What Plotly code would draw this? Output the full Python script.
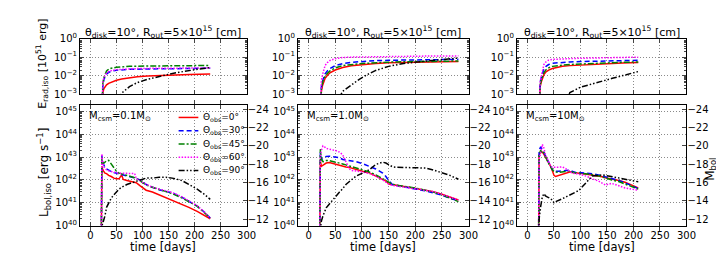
import plotly.graph_objects as go

# ---------------- data (log10 values) ----------------
angles = ["0", "30", "45", "60", "90"]

# Panel 1 : M_csm = 0.1 Msun
t_L1 = [21, 22, 23, 25, 28, 31, 35, 40, 45, 50, 55, 60, 63, 70, 80, 85, 88, 95, 100, 107, 119, 132, 145, 157, 175, 189, 205, 220, 230]
logL1_0 = [39.5, 42.6, 42.5, 42.4, 42.3, 42.28, 42.2, 42.15, 42.08, 42.05, 42.05, 42.22, 42.02, 41.98, 41.93, 41.9, 41.88, 41.75, 41.65, 41.55, 41.47, 41.35, 41.22, 41.12, 40.95, 40.8, 40.62, 40.45, 40.3]
logL1_30 = [39.5, 43.07, 42.85, 42.7, 42.55, 42.48, 42.42, 42.37, 42.33, 42.3, 42.28, 42.25, 42.24, 42.2, 42.15, 42.12, 42.07, 42.0, 41.93, 41.8, 41.68, 41.57, 41.5, 41.43, 41.25, 41.06, 40.85, 40.57, 40.33]
logL1_45 = [39.5, 43.0, 42.8, 42.72, 42.78, 42.84, 42.86, 42.7, 42.51, 42.38, 42.3, 42.27, 42.25, 42.22, 42.15, 42.1, 42.07, 41.97, 41.89, 41.78, 41.68, 41.58, 41.5, 41.4, 41.22, 41.06, 40.85, 40.54, 40.32]
logL1_60 = [39.5, 43.14, 42.9, 42.6, 42.5, 42.44, 42.4, 42.36, 42.33, 42.31, 42.3, 42.3, 42.3, 42.3, 42.3, 42.28, 42.05, 41.98, 41.89, 41.8, 41.68, 41.6, 41.52, 41.45, 41.27, 41.08, 40.87, 40.57, 40.32]
logL1_90 = [39.5, 39.9, 40.05, 40.2, 40.43, 40.8, 41.0, 41.2, 41.35, 41.5, 41.6, 41.68, 41.72, 41.8, 41.88, 41.92, 41.95, 42.0, 42.05, 42.08, 42.08, 42.12, 42.12, 42.08, 41.98, 41.82, 41.6, 41.35, 41.15]

t_E1 = [21, 22.5, 24, 26, 28, 31, 35, 40, 50, 60, 75, 90, 110, 130, 150, 170, 190, 210, 230]
logE1_0 = [-4.5, -3.2, -2.9, -2.7, -2.6, -2.5, -2.42, -2.35, -2.25, -2.18, -2.11, -2.06, -2.02, -1.99, -1.97, -1.95, -1.94, -1.93, -1.92]
logE1_30 = [-4.5, -3.0, -2.5, -2.2, -2.05, -1.92, -1.83, -1.77, -1.71, -1.68, -1.66, -1.65, -1.64, -1.63, -1.62, -1.62, -1.61, -1.61, -1.6]
logE1_45 = [-4.5, -2.95, -2.4, -2.1, -1.9, -1.75, -1.65, -1.6, -1.55, -1.52, -1.5, -1.49, -1.48, -1.47, -1.46, -1.46, -1.45, -1.45, -1.45]
logE1_60 = [-4.5, -2.8, -2.35, -2.1, -1.97, -1.86, -1.78, -1.73, -1.68, -1.66, -1.63, -1.62, -1.61, -1.6, -1.6, -1.59, -1.59, -1.58, -1.58]
logE1_90 = [-7, -7, -7, -7, -7, -7, -6, -4.5, -3.5, -2.95, -2.6, -2.38, -2.2, -2.05, -1.93, -1.82, -1.72, -1.64, -1.57]

# Panel 2 : M_csm = 1.0 Msun
t_L2 = [21, 22, 24, 27, 30, 33, 39, 45, 52, 58, 64, 70, 76, 80, 89, 101, 114, 126, 139, 145, 151, 157, 163, 176, 188, 201, 219, 232, 250, 265, 281]
logL2_0 = [39.5, 42.85, 42.6, 42.65, 42.72, 42.74, 42.76, 42.72, 42.68, 42.62, 42.58, 42.57, 42.55, 42.52, 42.44, 42.38, 42.31, 42.17, 42.03, 41.95, 41.82, 41.8, 41.76, 41.73, 41.68, 41.63, 41.55, 41.5, 41.37, 41.25, 41.12]
logL2_30 = [39.5, 43.2, 42.9, 42.95, 43.0, 43.03, 43.04, 43.02, 43.0, 42.97, 42.9, 42.88, 42.85, 42.83, 42.8, 42.72, 42.6, 42.48, 42.3, 42.15, 41.95, 41.8, 41.77, 41.72, 41.67, 41.6, 41.52, 41.45, 41.33, 41.2, 41.08]
logL2_45 = [39.5, 43.35, 42.9, 42.8, 42.82, 42.85, 42.85, 42.82, 42.78, 42.75, 42.7, 42.66, 42.62, 42.6, 42.53, 42.45, 42.35, 42.22, 42.06, 41.98, 41.88, 41.82, 41.78, 41.74, 41.7, 41.64, 41.55, 41.48, 41.35, 41.2, 41.05]
logL2_60 = [39.5, 43.0, 43.3, 43.49, 43.45, 43.38, 43.35, 43.32, 43.28, 43.22, 43.1, 42.8, 42.5, 42.42, 42.4, 42.35, 42.28, 42.17, 42.0, 41.9, 41.8, 41.76, 41.74, 41.72, 41.68, 41.63, 41.55, 41.5, 41.37, 41.25, 41.12]
logL2_90 = [39.5, 39.8, 40.2, 40.43, 40.6, 40.78, 40.95, 41.13, 41.3, 41.47, 41.62, 41.8, 41.92, 42.0, 42.17, 42.3, 42.45, 42.68, 42.78, 42.74, 42.65, 42.58, 42.56, 42.55, 42.56, 42.56, 42.52, 42.45, 42.33, 42.2, 42.03]

t_E2 = [21, 22.5, 24, 26, 28, 31, 35, 40, 50, 64, 80, 95, 110, 126, 150, 175, 200, 225, 250, 281]
logE2_0 = [-4.5, -3.2, -2.85, -2.55, -2.35, -2.15, -2.0, -1.85, -1.7, -1.56, -1.47, -1.42, -1.38, -1.35, -1.31, -1.29, -1.27, -1.26, -1.25, -1.24]
logE2_30 = [-4.5, -3.0, -2.6, -2.3, -2.1, -1.9, -1.75, -1.62, -1.46, -1.35, -1.28, -1.24, -1.21, -1.19, -1.17, -1.16, -1.15, -1.14, -1.13, -1.12]
logE2_45 = [-4.5, -3.0, -2.65, -2.4, -2.2, -2.05, -1.88, -1.75, -1.58, -1.46, -1.4, -1.36, -1.33, -1.3, -1.27, -1.25, -1.24, -1.23, -1.22, -1.21]
logE2_60 = [-4.5, -2.8, -2.3, -1.95, -1.7, -1.45, -1.3, -1.18, -1.08, -1.02, -1.0, -0.99, -0.98, -0.97, -0.96, -0.95, -0.95, -0.94, -0.94, -0.93]
logE2_90 = [-7, -7, -7, -7, -7, -7, -7, -6, -3.6, -2.85, -2.5, -2.2, -1.95, -1.72, -1.5, -1.36, -1.27, -1.19, -1.13, -1.05]

# Panel 3 : M_csm = 10 Msun
t_L3 = [21, 22, 25, 28, 31, 34, 38, 41, 44, 47, 50, 53, 59, 66, 72, 75, 81, 84, 91, 97, 103, 109, 116, 122, 134, 141, 147, 159, 172, 184, 196, 209]
logL3_0 = [39.5, 43.1, 43.25, 43.22, 43.12, 43.0, 42.85, 42.72, 42.58, 42.4, 42.2, 42.15, 42.2, 42.25, 42.3, 42.33, 42.36, 42.33, 42.3, 42.3, 42.28, 42.26, 42.24, 42.22, 42.18, 42.14, 42.1, 42.05, 41.98, 41.9, 41.78, 41.65]
logL3_30 = [39.5, 43.3, 43.45, 43.35, 43.2, 43.05, 42.85, 42.7, 42.55, 42.45, 42.4, 42.38, 42.38, 42.4, 42.42, 42.42, 42.43, 42.38, 42.33, 42.33, 42.32, 42.3, 42.28, 42.27, 42.22, 42.18, 42.12, 42.05, 41.98, 41.88, 41.75, 41.62]
logL3_45 = [39.5, 43.1, 43.3, 43.15, 43.2, 43.0, 42.82, 42.68, 42.55, 42.45, 42.38, 42.35, 42.33, 42.34, 42.36, 42.38, 42.4, 42.35, 42.3, 42.3, 42.28, 42.27, 42.25, 42.23, 42.18, 42.13, 42.08, 42.0, 41.93, 41.82, 41.7, 41.6]
logL3_60 = [39.5, 42.9, 43.2, 43.56, 43.4, 43.1, 42.9, 42.75, 42.6, 42.55, 42.55, 42.55, 42.57, 42.57, 42.5, 42.45, 42.35, 42.3, 42.28, 42.25, 42.22, 42.18, 42.12, 42.05, 41.95, 41.85, 41.78, 41.85, 41.75, 41.65, 41.6, 41.55]
logL3_90 = [39.5, 40.3, 40.85, 41.25, 41.4, 41.3, 41.25, 41.22, 41.18, 41.1, 41.0, 41.05, 41.1, 41.18, 41.25, 41.28, 41.35, 41.4, 41.47, 41.54, 41.68, 41.82, 42.0, 42.17, 42.2, 42.22, 42.2, 42.15, 42.1, 42.05, 41.98, 41.92]

t_E3 = [21, 22.5, 24, 26, 28, 31, 35, 40, 47, 56, 66, 80, 100, 120, 140, 160, 180, 209]
logE3_0 = [-4.5, -3.0, -2.6, -2.35, -2.15, -1.95, -1.8, -1.7, -1.62, -1.55, -1.5, -1.46, -1.42, -1.39, -1.36, -1.34, -1.32, -1.29]
logE3_30 = [-4.5, -2.8, -2.35, -2.1, -1.89, -1.65, -1.5, -1.4, -1.33, -1.3, -1.28, -1.26, -1.24, -1.22, -1.2, -1.19, -1.18, -1.17]
logE3_45 = [-4.5, -2.9, -2.5, -2.25, -2.06, -1.85, -1.68, -1.58, -1.5, -1.45, -1.43, -1.4, -1.37, -1.34, -1.31, -1.29, -1.28, -1.26]
logE3_60 = [-4.5, -2.6, -2.3, -2.05, -1.75, -1.4, -1.25, -1.16, -1.12, -1.1, -1.09, -1.08, -1.06, -1.05, -1.04, -1.03, -1.02, -1.0]
logE3_90 = [-7, -7, -7, -7, -7, -7, -7, -7, -7, -6, -3.8, -2.92, -2.63, -2.47, -2.33, -2.15, -2.0, -1.78]

mcsm_labels = ["0.1", "1.0", "10"]
x_ticks = [0, 50, 100, 150, 200, 250, 300]
mbol_ticks = [-12, -14, -16, -18, -20, -22, -24]

# ---------------- styling / layout ----------------
W, H = 724, 253
FONT = "DejaVu Sans"
colors = ["#ff0000", "#0000ff", "#008000", "#ff00ff", "#000000"]
dashes = ["solid", "5px,3px", "6px,2px,2px,2px", "1.5px,1.5px", "6px,2px,1.5px,2px,1.5px,2px"]

cols = [(73, 242), (294, 467), (516, 688)]
top_px = (25, 83.3)
bot_px = (94.5, 222)


def xd(a, b):
    return [a / W, b / W]


def yd(a, b):
    return [1 - b / H, 1 - a / H]


def px(x):
    return x / W


def py(y):
    return 1 - y / H


panels_L = [
    (t_L1, [logL1_0, logL1_30, logL1_45, logL1_60, logL1_90]),
    (t_L2, [logL2_0, logL2_30, logL2_45, logL2_60, logL2_90]),
    (t_L3, [logL3_0, logL3_30, logL3_45, logL3_60, logL3_90]),
]
panels_E = [
    (t_E1, [logE1_0, logE1_30, logE1_45, logE1_60, logE1_90]),
    (t_E2, [logE2_0, logE2_30, logE2_45, logE2_60, logE2_90]),
    (t_E3, [logE3_0, logE3_30, logE3_45, logE3_60, logE3_90]),
]

fig = go.Figure()

for p in range(3):
    tE, Es = panels_E[p]
    for a in range(5):
        fig.add_trace(go.Scatter(
            x=tE, y=[10.0 ** v for v in Es[a]], mode="lines",
            line=dict(color=colors[a], width=1.5, dash=dashes[a]),
            xaxis=f"x{p + 1}", yaxis=f"y{p + 1}", showlegend=False, hoverinfo="skip"))
    tL, Ls = panels_L[p]
    for a in range(5):
        fig.add_trace(go.Scatter(
            x=tL, y=[10.0 ** v for v in Ls[a]], mode="lines",
            line=dict(color=colors[a], width=1.5, dash=dashes[a]),
            xaxis=f"x{p + 4}", yaxis=f"y{p + 4}", showlegend=False, hoverinfo="skip"))
    # empty trace so that the right-hand magnitude axis is drawn
    fig.add_trace(go.Scatter(x=[None], y=[None], mode="lines", xaxis=f"x{p + 4}",
                             yaxis=f"y{p + 7}", showlegend=False, hoverinfo="skip"))

tickfont = dict(family=FONT, size=10, color="black")
grid = dict(showgrid=True, gridcolor="#8a8a8a", griddash="1px,2px", gridwidth=0.8)
frame = dict(showline=True, linecolor="black", linewidth=1, zeroline=False)

minor_L = [m * 10.0 ** e for e in range(40, 46) for m in range(2, 10)]
minor_E = [m * 10.0 ** e for e in range(-3, 0) for m in range(2, 10)]

layout = dict(
    width=W, height=H, margin=dict(l=0, r=0, t=0, b=0),
    paper_bgcolor="white", plot_bgcolor="white",
    font=dict(family=FONT, size=10, color="black"),
    showlegend=False,
)

annotations = []
shapes = []
for p in range(3):
    x0, x1 = cols[p]
    layout[f"xaxis{p + 1}"] = dict(domain=xd(x0, x1), anchor=f"y{p + 1}", range=[-20, 300],
                                   tickvals=x_ticks, showticklabels=False, ticks="inside",
                                   ticklen=4, mirror="allticks", **frame, **grid)
    layout[f"yaxis{p + 1}"] = dict(domain=yd(*top_px), anchor=f"x{p + 1}", type="log",
                                   range=[-3, 0], tickvals=[1e-3, 1e-2, 1e-1, 1.0],
                                   ticktext=["10<sup>−3</sup>", "10<sup>−2</sup>", "10<sup>−1</sup>", "10<sup>0</sup>"],
                                   ticks="inside", ticklen=4, mirror="allticks", tickfont=tickfont,
                                   minor=dict(tickvals=minor_E, ticks="inside", ticklen=2, showgrid=False),
                                   **frame, **grid)
    layout[f"xaxis{p + 4}"] = dict(domain=xd(x0, x1), anchor=f"y{p + 4}", range=[-20, 300],
                                   tickvals=x_ticks, ticks="inside", ticklen=4, mirror="allticks",
                                   tickfont=tickfont, **frame, **grid)
    layout[f"yaxis{p + 4}"] = dict(domain=yd(*bot_px), anchor=f"x{p + 4}", type="log",
                                   range=[40, 45.3], tickvals=[10.0 ** e for e in range(40, 46)],
                                   ticktext=[f"10<sup>{e}</sup>" for e in range(40, 46)],
                                   ticks="inside", ticklen=4, mirror=True, tickfont=tickfont,
                                   minor=dict(tickvals=minor_L, ticks="inside", ticklen=2, showgrid=False),
                                   **frame, **grid)
    layout[f"yaxis{p + 7}"] = dict(overlaying=f"y{p + 4}", anchor=f"x{p + 4}", side="right",
                                   range=[-11.28, -24.53], tickvals=mbol_ticks,
                                   ticktext=[f"−{abs(v)}" for v in mbol_ticks],
                                   ticks="inside", ticklen=4, tickfont=tickfont, showgrid=False,
                                   showline=False, zeroline=False)
    annotations.append(dict(
        text="θ<sub>disk</sub>=10°, R<sub>out</sub>=5×10<sup>15</sup> [cm]",
        x=px((x0 + x1) / 2), y=py(18), xref="paper", yref="paper",
        xanchor="center", yanchor="middle", showarrow=False,
        font=dict(family=FONT, size=11)))
    annotations.append(dict(
        text="M<sub>csm</sub>=" + mcsm_labels[p] + "M<sub>⊙</sub>",
        x=px(x0 + 7), y=py(107), xref="paper", yref="paper",
        xanchor="left", yanchor="middle", showarrow=False,
        font=dict(family=FONT, size=10)))
    annotations.append(dict(
        text="time [days]", x=px((x0 + x1) / 2), y=py(244.5), xref="paper", yref="paper",
        xanchor="center", yanchor="middle", showarrow=False,
        font=dict(family=FONT, size=11.5)))

# y-axis titles
annotations.append(dict(text="E<sub>rad,iso</sub> [10<sup>51</sup> erg]", x=px(35), y=py(52),
                        xref="paper", yref="paper", textangle=-90, showarrow=False,
                        xanchor="center", yanchor="middle", font=dict(family=FONT, size=11)))
annotations.append(dict(text="L<sub>bol,iso</sub> [erg s<sup>−1</sup>]", x=px(37), y=py(166),
                        xref="paper", yref="paper", textangle=-90, showarrow=False,
                        xanchor="center", yanchor="middle", font=dict(family=FONT, size=12)))
annotations.append(dict(text="M<sub>bol</sub>", x=px(712), y=py(163),
                        xref="paper", yref="paper", textangle=-90, showarrow=False,
                        xanchor="center", yanchor="middle", font=dict(family=FONT, size=12)))

# legend (panel 1), drawn by hand to match the compact spacing
leg_rows = [108, 122, 136, 150, 164]
for a in range(5):
    shapes.append(dict(type="line", xref="paper", yref="paper",
                       x0=px(173), x1=px(193), y0=py(leg_rows[a]), y1=py(leg_rows[a]),
                       line=dict(color=colors[a], width=1.5, dash=dashes[a])))
    annotations.append(dict(text=f"Θ<sub>obs</sub>={angles[a]}°", x=px(196), y=py(leg_rows[a]),
                            xref="paper", yref="paper", xanchor="left", yanchor="middle",
                            showarrow=False, font=dict(family=FONT, size=9)))

layout["annotations"] = annotations
layout["shapes"] = shapes

fig.update_layout(**layout)
fig.write_html("out.html")
